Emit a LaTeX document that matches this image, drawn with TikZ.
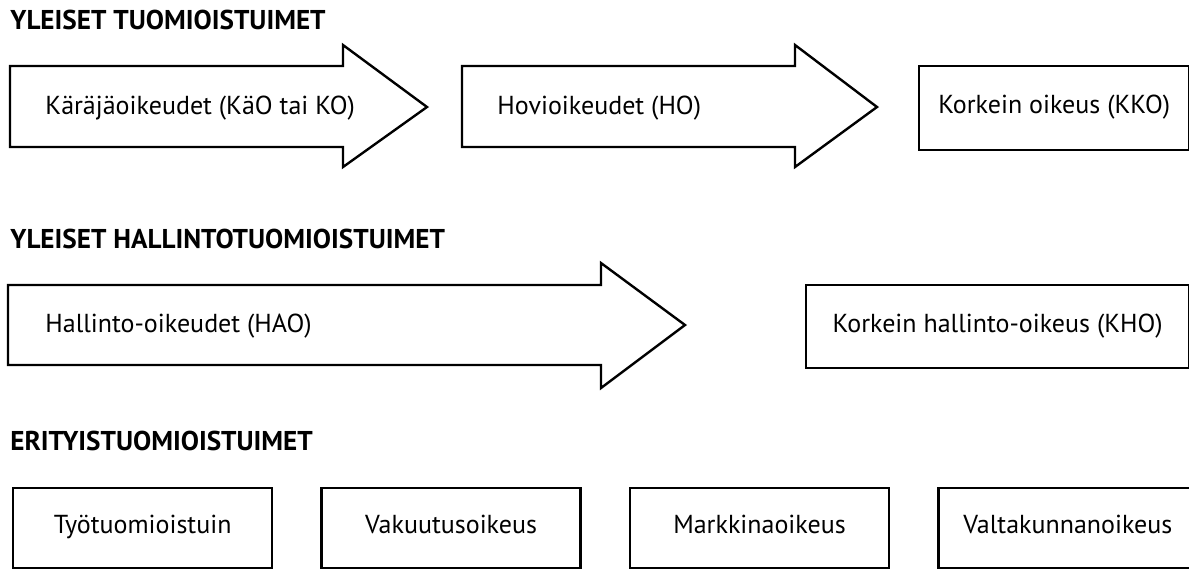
\documentclass[tikz,border=0pt]{standalone}
\usepackage{fontspec}
\setmainfont{PT Sans}
\usetikzlibrary{positioning}

\begin{document}
\begin{tikzpicture}[x=0.5pt, y=-0.5pt,
	otsikko/.style={anchor=base west, inner sep=0pt, font=\bfseries\fontsize{13.6}{15}\selectfont},
	nuoli/.style={draw, line width=1.2pt, line join=miter},
	teksti/.style={anchor=west, inner sep=0pt, font=\fontsize{13}{15}\selectfont},
	laatikko/.style={draw, line width=1.2pt, inner sep=0pt, text height=1.6ex, text depth=0.5ex, font=\fontsize{13}{15}\selectfont}]
	\useasboundingbox (0,0) rectangle (1189,569);

	% yleiset tuomioistuimet
	\node[otsikko] (YT) at (10,29) {YLEISET TUOMIOISTUIMET};
	\draw[nuoli] (10,66) -- (343,66) -- (343,45) -- (427,107) -- (343,167) -- (343,147) -- (10,147) -- cycle;
	\node[teksti] (KAO) at (45,108) {Käräjäoikeudet (KäO tai KO)};
	\draw[nuoli] (462,66) -- (795,66) -- (795,45) -- (877,107) -- (795,167) -- (795,147) -- (462,147) -- cycle;
	\node[teksti] (HO) at (497,108) {Hovioikeudet (HO)};
	\node[laatikko, anchor=north west, minimum width=135pt, minimum height=42pt] (KKO) at (918,65) {Korkein oikeus (KKO)};

	% yleiset hallintotuomioistuimet
	\node[otsikko] (YHT) at (10,248) {YLEISET HALLINTOTUOMIOISTUIMET};
	\draw[nuoli] (8,285) -- (601,285) -- (601,263) -- (685,325) -- (601,388) -- (601,365) -- (8,365) -- cycle;
	\node[teksti] (HAO) at (45,326) {Hallinto-oikeudet (HAO)};
	\node[laatikko, anchor=north west, minimum width=191.5pt, minimum height=41.5pt] (KHO) at (805,284) {Korkein hallinto-oikeus (KHO)};

	% erityistuomioistuimet
	\node[otsikko] (ET) at (10,450) {ERITYISTUOMIOISTUIMET};
	\begin{scope}[every node/.style={laatikko, minimum width=129.5pt, minimum height=40pt}]
		\node[anchor=north west] (TT) at (12,487) {Työtuomioistuin};
		\node[right=23.5pt of TT] (VO) {Vakuutusoikeus};
		\node[right=23.5pt of VO] (MO) {Markkinaoikeus};
		\node[right=23.5pt of MO] (VKO) {Valtakunnanoikeus};
	\end{scope}
\end{tikzpicture}
\end{document}
